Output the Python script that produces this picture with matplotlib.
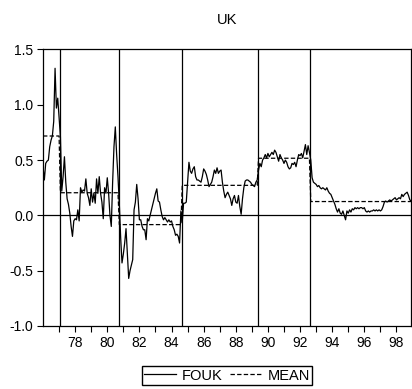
import numpy as np
import pandas as pd
import matplotlib
matplotlib.use("Agg")
import matplotlib.pyplot as plt
from matplotlib.ticker import FixedLocator, FuncFormatter

plt.rcParams['font.family'] = ['Liberation Sans', 'DejaVu Sans']

# Monthly FOUK series, 1976M1 - 1998M12 (one row per year)
fouk_1976_1981 = [
    0.44, 0.32, 0.47, 0.49, 0.50, 0.62, 0.68, 0.72, 0.85, 1.33, 0.97, 1.06,
    0.88, 0.71, 0.22, 0.35, 0.53, 0.30, 0.15, 0.10, 0.02, -0.10, -0.19, -0.05,
    -0.03, -0.04, 0.05, -0.05, 0.25, 0.21, 0.23, 0.22, 0.33, 0.20, 0.16, 0.09,
    0.24, 0.12, 0.20, 0.11, 0.33, 0.20, 0.35, 0.20, 0.12, -0.03, 0.25, 0.20,
    0.34, 0.20, 0.00, -0.10, 0.30, 0.62, 0.80, 0.55, 0.35, 0.10, -0.20, -0.43,
    -0.35, -0.25, -0.12, -0.35, -0.57, -0.50, -0.45, -0.40, 0.05, 0.12, 0.28, 0.15,
]
fouk_1982_1987 = [
    -0.04, -0.04, -0.10, -0.13, -0.13, -0.22, -0.03, -0.05, 0.00, 0.05, 0.10, 0.15,
    0.20, 0.24, 0.13, 0.12, 0.05, -0.01, -0.04, -0.02, -0.04, -0.06, -0.04, -0.06,
    -0.05, -0.10, -0.13, -0.18, -0.17, -0.19, -0.25, 0.04, -0.06, 0.11, 0.11, 0.12,
    0.30, 0.48, 0.40, 0.38, 0.42, 0.44, 0.35, 0.32, 0.32, 0.31, 0.30, 0.35,
    0.42, 0.40, 0.37, 0.32, 0.26, 0.28, 0.30, 0.35, 0.41, 0.38, 0.43, 0.38,
    0.40, 0.41, 0.30, 0.22, 0.16, 0.19, 0.21, 0.18, 0.15, 0.09, 0.15, 0.18,
]
fouk_1988_1993 = [
    0.12, 0.11, 0.18, 0.08, 0.01, 0.15, 0.25, 0.31, 0.32, 0.32, 0.31, 0.30,
    0.28, 0.27, 0.26, 0.30, 0.32, 0.41, 0.47, 0.44, 0.50, 0.52, 0.55, 0.52,
    0.56, 0.53, 0.55, 0.57, 0.55, 0.59, 0.57, 0.53, 0.49, 0.55, 0.52, 0.50,
    0.47, 0.50, 0.48, 0.44, 0.42, 0.43, 0.47, 0.46, 0.48, 0.44, 0.50, 0.55,
    0.54, 0.56, 0.52, 0.58, 0.64, 0.55, 0.63, 0.57, 0.50, 0.34, 0.30, 0.29,
    0.28, 0.26, 0.27, 0.25, 0.24, 0.25, 0.24, 0.23, 0.25, 0.22, 0.20, 0.19,
]
fouk_1994_1998 = [
    0.16, 0.13, 0.10, 0.06, 0.03, 0.06, 0.02, 0.01, 0.04, 0.00, -0.04, 0.04,
    0.02, 0.05, 0.03, 0.06, 0.05, 0.07, 0.06, 0.07, 0.06, 0.07, 0.07, 0.06,
    0.07, 0.04, 0.03, 0.04, 0.03, 0.04, 0.04, 0.05, 0.04, 0.05, 0.04, 0.05,
    0.04, 0.05, 0.08, 0.12, 0.13, 0.12, 0.13, 0.14, 0.13, 0.14, 0.15, 0.16,
    0.14, 0.15, 0.16, 0.15, 0.19, 0.17, 0.19, 0.20, 0.21, 0.18, 0.14, 0.13,
]

# first month of each regime (1977M2, 1980M10, 1984M9, 1989M6, 1992M9)
break_dates = ["1977-02", "1980-10", "1984-09", "1989-06", "1992-09"]

year_ticks = list(range(1977, 1999))
y_ticks = [-1.0, -0.5, 0.0, 0.5, 1.0, 1.5]

fouk = fouk_1976_1981 + fouk_1982_1987 + fouk_1988_1993 + fouk_1994_1998
dates = pd.period_range("1976-01", periods=len(fouk), freq="M")
df = pd.DataFrame({"FOUK": fouk}, index=dates)
df["t"] = df.index.year + (df.index.month - 1) / 12.0

# regime means
breaks = [pd.Period(b, freq="M") for b in break_dates]
df["regime"] = np.searchsorted(np.array([b.ordinal for b in breaks]),
                               np.array([p.ordinal for p in df.index]), side="right")
df["MEAN"] = df.groupby("regime")["FOUK"].transform("mean")

fig = plt.figure(figsize=(4.12, 3.89), dpi=100)
ax = fig.add_axes([0.1044, 0.162, 0.8936, 0.7108])

ax.plot(df["t"], df["FOUK"], color="black", linewidth=0.9, label="FOUK")
ax.plot(df["t"], df["MEAN"], color="black", linewidth=0.9,
        linestyle=(0, (3.5, 1.8)), label="MEAN")
ax.axhline(0, color="black", linewidth=0.9)
for b in breaks:
    ax.axvline(b.year + (b.month - 1) / 12.0 - 1 / 24.0, color="black", linewidth=0.9)

ax.set_xlim(df["t"].iloc[0], df["t"].iloc[-1])
ax.set_ylim(-1.0, 1.5)

ax.xaxis.set_major_locator(FixedLocator(year_ticks))
ax.xaxis.set_major_formatter(FuncFormatter(
    lambda v, p: f"{int(round(v)) % 100:02d}" if int(round(v)) % 2 == 0 else ""))
ax.set_yticks(y_ticks)
ax.yaxis.set_major_formatter(FuncFormatter(lambda v, p: f"{v:.1f}"))
ax.tick_params(direction="out", length=4.5, width=0.8, labelsize=10, pad=2.5)

for s in ax.spines.values():
    s.set_linewidth(0.9)

ax.set_title("UK", fontsize=10.5, pad=18)

fig.legend(loc="center", bbox_to_anchor=(227 / 412, 1 - 375.5 / 389), ncol=2,
           fontsize=10.5, frameon=True, fancybox=False, edgecolor="black",
           framealpha=1, handlelength=2.2, handletextpad=0.4, columnspacing=0.5,
           borderpad=0.15, borderaxespad=0)

fig.savefig("out.png", dpi=100)
